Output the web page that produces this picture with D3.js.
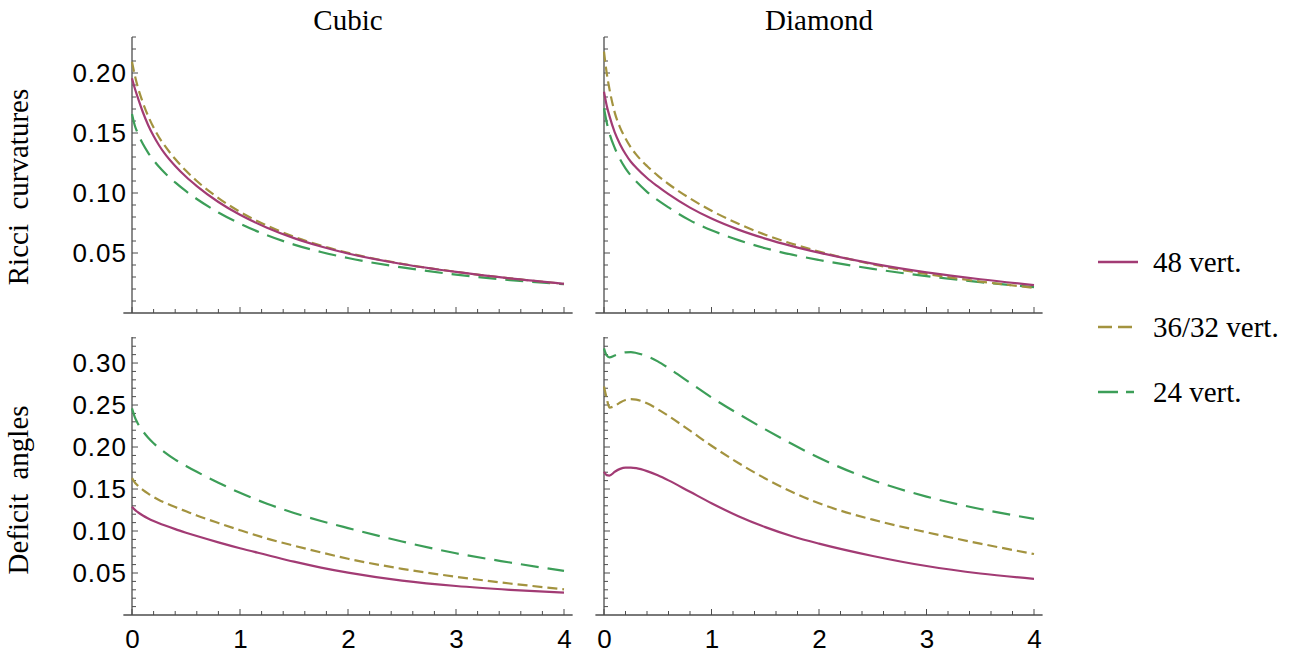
<!DOCTYPE html>
<html><head><meta charset="utf-8">
<script src="https://cdn.jsdelivr.net/npm/d3@7"></script>
<style>
html,body{margin:0;padding:0;background:#fff;}
svg{display:block;}
</style></head>
<body><svg id="c" width="1295" height="656"></svg>
<script>
// ---- data ----
const xs = [0, 0.025, 0.05, 0.1, 0.15, 0.2, 0.25, 0.3, 0.4, 0.5, 0.6, 0.8, 1, 1.25, 1.5, 1.75, 2, 2.5, 3, 3.5, 4];
const xTicks = [0, 1, 2, 3, 4];
const ricciTicks = [0.05, 0.10, 0.15, 0.20];
const deficitTicks = [0.05, 0.10, 0.15, 0.20, 0.25, 0.30];
const columnTitles = ["Cubic", "Diamond"];
const rowLabels = ["Ricci  curvatures", "Deficit  angles"];
const seriesNames = ["48 vert.", "36/32 vert.", "24 vert."];

const cubicRicci48 = [0.1956, 0.1875, 0.1805, 0.1675, 0.1565, 0.1475, 0.1398, 0.1332, 0.1225, 0.1135, 0.1058, 0.0925, 0.0818, 0.0711, 0.0624, 0.0554, 0.0496, 0.0408, 0.0342, 0.0288, 0.0243];
const cubicRicci36 = [0.2094, 0.1985, 0.1895, 0.1755, 0.164, 0.1545, 0.1465, 0.1398, 0.1283, 0.1185, 0.110, 0.0958, 0.0843, 0.0728, 0.0636, 0.0562, 0.0501, 0.0410, 0.0343, 0.0289, 0.0243];
const cubicRicci24 = [0.1658, 0.1565, 0.1505, 0.1410, 0.1335, 0.1272, 0.1218, 0.1170, 0.1088, 0.1015, 0.0950, 0.0838, 0.0745, 0.0648, 0.0570, 0.0508, 0.0458, 0.0380, 0.0320, 0.0274, 0.0240];

const diamondRicci48 = [0.1844, 0.173, 0.1645, 0.1505, 0.1405, 0.1325, 0.126, 0.121, 0.1125, 0.1055, 0.0990, 0.0878, 0.0787, 0.0695, 0.0620, 0.0557, 0.0503, 0.0412, 0.0339, 0.0281, 0.0233];
const diamondRicci36 = [0.2178, 0.200, 0.187, 0.167, 0.1545, 0.1455, 0.138, 0.132, 0.1225, 0.1145, 0.1075, 0.0955, 0.0852, 0.0744, 0.0652, 0.0577, 0.0512, 0.0406, 0.0325, 0.0262, 0.021];
const diamondRicci24 = [0.1706, 0.159, 0.150, 0.1375, 0.128, 0.1205, 0.1145, 0.1095, 0.101, 0.094, 0.088, 0.0772, 0.0690, 0.0607, 0.0540, 0.0486, 0.0442, 0.0368, 0.0307, 0.0257, 0.0215];

const cubicDeficit48 = [0.129, 0.1255, 0.1228, 0.1185, 0.115, 0.112, 0.1093, 0.1068, 0.1022, 0.098, 0.094, 0.0865, 0.0795, 0.0715, 0.0635, 0.0565, 0.0505, 0.041, 0.0345, 0.030, 0.0266];
const cubicDeficit36 = [0.163, 0.158, 0.1545, 0.149, 0.1445, 0.1405, 0.137, 0.134, 0.1285, 0.1235, 0.1185, 0.1095, 0.101, 0.091, 0.0825, 0.0745, 0.067, 0.055, 0.0455, 0.0375, 0.0306];
const cubicDeficit24 = [0.246, 0.236, 0.229, 0.219, 0.211, 0.2045, 0.199, 0.194, 0.185, 0.1775, 0.1705, 0.1575, 0.1455, 0.1325, 0.1215, 0.112, 0.1035, 0.0875, 0.0735, 0.0625, 0.0525];

const diamondDeficit48 = [0.1706, 0.1665, 0.166, 0.1705, 0.174, 0.1755, 0.1755, 0.1748, 0.1713, 0.1663, 0.1603, 0.1467, 0.1331, 0.1176, 0.1046, 0.0938, 0.0850, 0.0703, 0.0583, 0.0494, 0.043];
const diamondDeficit36 = [0.272, 0.258, 0.247, 0.249, 0.253, 0.256, 0.257, 0.2565, 0.252, 0.245, 0.237, 0.2195, 0.2015, 0.181, 0.1625, 0.1465, 0.133, 0.1135, 0.0985, 0.085, 0.0726];
const diamondDeficit24 = [0.3175, 0.309, 0.3068, 0.309, 0.3115, 0.3128, 0.313, 0.312, 0.308, 0.302, 0.294, 0.2765, 0.259, 0.2395, 0.2210, 0.2035, 0.1872, 0.1605, 0.1410, 0.1262, 0.1145];

// ---- styles ----
const colors = ["#a23b74", "#a3933f", "#3c9e58"];
const dashes = [null, "10,5", "18,9"];
const axisColor = "#4d4d4d";

const svg = d3.select("#c");

const panels = [
  {col: 0, row: 0, series: [cubicRicci48, cubicRicci36, cubicRicci24]},
  {col: 1, row: 0, series: [diamondRicci48, diamondRicci36, diamondRicci24]},
  {col: 0, row: 1, series: [cubicDeficit48, cubicDeficit36, cubicDeficit24]},
  {col: 1, row: 1, series: [diamondDeficit48, diamondDeficit36, diamondDeficit24]}
];
const colRange = [[132, 564], [604, 1034]];
const rowGeom = [
  {yRange: [313, 37], yDomain: [0, 0.23], ticks: ricciTicks, minorMax: 0.23},
  {yRange: [615, 337], yDomain: [0, 0.331], ticks: deficitTicks, minorMax: 0.33}
];

panels.forEach(p => {
  const rg = rowGeom[p.row];
  const x = d3.scaleLinear().domain([0, 4]).range(colRange[p.col]);
  const y = d3.scaleLinear().domain(rg.yDomain).range(rg.yRange);
  const g = svg.append("g");
  const y0 = y(0);

  g.append("line").attr("x1", x(-0.08)).attr("x2", x(4.08)).attr("y1", y0).attr("y2", y0)
    .attr("stroke", axisColor).attr("stroke-width", 1.3);
  g.append("line").attr("x1", x(0)).attr("x2", x(0)).attr("y1", y0).attr("y2", y(rg.yDomain[1]))
    .attr("stroke", axisColor).attr("stroke-width", 1.3);

  const xMinor = d3.range(0, 4.001, 0.2);
  g.selectAll(".xm").data(xMinor).enter().append("line")
    .attr("x1", d => x(d)).attr("x2", d => x(d))
    .attr("y1", y0).attr("y2", d => y0 - (Math.abs(d - Math.round(d)) < 1e-6 ? 6 : 4))
    .attr("stroke", axisColor).attr("stroke-width", 1);
  const yMinor = d3.range(0.01, rg.minorMax + 0.0001, 0.01);
  g.selectAll(".ym").data(yMinor).enter().append("line")
    .attr("x1", x(0)).attr("x2", d => x(0) + (Math.abs(d * 20 - Math.round(d * 20)) < 1e-6 ? 6 : 4))
    .attr("y1", d => y(d)).attr("y2", d => y(d))
    .attr("stroke", axisColor).attr("stroke-width", 1);

  if (p.col === 0) {
    g.selectAll(".yl").data(rg.ticks).enter().append("text")
      .attr("x", x(0) - 5).attr("y", d => y(d)).attr("dy", "0.36em")
      .attr("text-anchor", "end")
      .style("font-family", "'Liberation Sans', Arial, sans-serif").style("font-size", "26px")
      .style("letter-spacing", "1px")
      .text(d => d.toFixed(2));
  }
  if (p.row === 1) {
    g.selectAll(".xl").data(xTicks).enter().append("text")
      .attr("x", d => x(d) + 0.5).attr("y", y0 + 33)
      .attr("text-anchor", "middle")
      .style("font-family", "'Liberation Sans', Arial, sans-serif").style("font-size", "26px")
      .text(d => d);
  }

  const line = d3.line().x((d, i) => x(xs[i])).y(d => y(d)).curve(d3.curveMonotoneX);
  [2, 1, 0].forEach(si => {
    g.append("path").attr("d", line(p.series[si]))
      .attr("fill", "none").attr("stroke", colors[si]).attr("stroke-width", 2.2)
      .attr("stroke-dasharray", dashes[si]);
  });

  if (p.row === 0) {
    svg.append("text").attr("x", (colRange[p.col][0] + colRange[p.col][1]) / 2).attr("y", 30)
      .attr("text-anchor", "middle")
      .style("font-family", "'Liberation Serif', 'Times New Roman', serif").style("font-size", "29px")
      .text(columnTitles[p.col]);
  }
  if (p.col === 0) {
    const cy = p.row === 0 ? 187 : 490;
    svg.append("text").attr("transform", `translate(28,${cy}) rotate(-90)`)
      .attr("text-anchor", "middle")
      .style("font-family", "'Liberation Serif', 'Times New Roman', serif").style("font-size", "29px")
      .style("white-space", "pre")
      .text(rowLabels[p.row]);
  }
});

// legend
const legendY = [262, 327, 392];
const legendEnd = [1138, 1138, 1134];
const legendDash = [null, "14,6", "20,8"];
seriesNames.forEach((name, i) => {
  svg.append("line").attr("x1", 1098).attr("x2", legendEnd[i]).attr("y1", legendY[i]).attr("y2", legendY[i])
    .attr("stroke", colors[i]).attr("stroke-width", 2.5)
    .attr("stroke-dasharray", legendDash[i]);
  svg.append("text").attr("x", 1153).attr("y", legendY[i] + 10)
    .style("font-family", "'Liberation Serif', 'Times New Roman', serif").style("font-size", "29px")
    .text(name);
});
</script>
</body></html>
